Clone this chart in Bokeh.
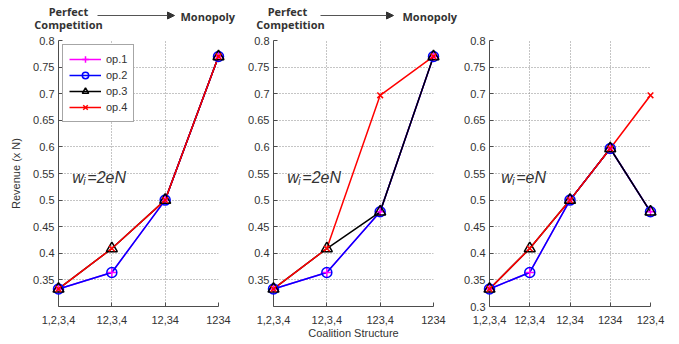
from bokeh.plotting import figure
from bokeh.layouts import row, column
from bokeh.models import (Range1d, FixedTicker, Label, Arrow, NormalHead, Legend,
                          LegendItem, NumeralTickFormatter)
from bokeh.embed import file_html
from bokeh.resources import INLINE

# ---------------- data ----------------
cats_a = ["1,2,3,4", "12,3,4", "12,34", "1234"]
cats_b = ["1,2,3,4", "12,3,4", "123,4", "1234"]
cats_c = ["1,2,3,4", "12,3,4", "12,34", "1234", "123,4"]

a_op1 = [0.333, 0.364, 0.500, 0.770]
a_op2 = [0.333, 0.364, 0.500, 0.770]
a_op3 = [0.333, 0.409, 0.500, 0.770]
a_op4 = [0.333, 0.409, 0.500, 0.770]

b_op1 = [0.333, 0.364, 0.478, 0.770]
b_op2 = [0.333, 0.364, 0.478, 0.770]
b_op3 = [0.333, 0.409, 0.478, 0.770]
b_op4 = [0.333, 0.409, 0.697, 0.770]

c_op1 = [0.333, 0.364, 0.500, 0.597, 0.478]
c_op2 = [0.333, 0.364, 0.500, 0.597, 0.478]
c_op3 = [0.333, 0.409, 0.500, 0.597, 0.478]
c_op4 = [0.333, 0.409, 0.500, 0.597, 0.697]

yticks_ab = [0.35, 0.4, 0.45, 0.5, 0.55, 0.6, 0.65, 0.7, 0.75, 0.8]
yticks_c = [0.3, 0.35, 0.4, 0.45, 0.5, 0.55, 0.6, 0.65, 0.7, 0.75, 0.8]

series_names = ["op.1", "op.2", "op.3", "op.4"]
colors = ["#FF00FF", "#0000FF", "#000000", "#FF0000"]
markers = ["cross", "circle", "triangle", "x"]
msizes = [9, 10, 11, 8]

FONT = "Liberation Sans"
TXT = "#333333"
AX = "#4d4d4d"
HEADER_H = 33
TOTAL_W = 666


def make_panel(cats, series, yticks, frame_w, bl, br, ylabel=None, xlabel=None,
               legend=False):
    n = len(cats)
    xs = list(range(n))
    p = figure(frame_width=frame_w, frame_height=266,
               x_range=Range1d(0, n - 1), y_range=Range1d(0.3, 0.8),
               output_backend="svg", toolbar_location=None,
               min_border_left=bl, min_border_right=br,
               min_border_top=7, min_border_bottom=30)
    p.outline_line_color = None
    p.background_fill_color = "white"
    p.border_fill_color = "white"

    p.xaxis.ticker = FixedTicker(ticks=xs)
    p.xaxis.major_label_overrides = {i: c for i, c in enumerate(cats)}
    p.yaxis.ticker = FixedTicker(ticks=yticks)
    p.yaxis.formatter = NumeralTickFormatter(format="0.[00]")

    p.axis.major_tick_in = 4
    p.axis.major_tick_out = 0
    p.axis.minor_tick_line_color = None
    p.axis.axis_line_color = AX
    p.axis.major_tick_line_color = AX
    p.axis.major_label_text_font = FONT
    p.axis.major_label_text_font_size = "11px"
    p.axis.major_label_text_color = TXT
    p.xaxis.major_label_standoff = 9
    p.yaxis.major_label_standoff = 4

    p.grid.grid_line_color = "#8a8a8a"
    p.grid.grid_line_dash = "1 2"
    p.grid.grid_line_width = 1

    if ylabel:
        p.yaxis.axis_label = ylabel
        p.yaxis.axis_label_text_font = FONT
        p.yaxis.axis_label_text_font_size = "11px"
        p.yaxis.axis_label_text_font_style = "normal"
        p.yaxis.axis_label_text_color = TXT
        p.yaxis.axis_label_standoff = 8
    if xlabel:
        p.xaxis.axis_label = xlabel
        p.xaxis.axis_label_text_font = FONT
        p.xaxis.axis_label_text_font_size = "11px"
        p.xaxis.axis_label_text_font_style = "normal"
        p.xaxis.axis_label_text_color = TXT
        p.xaxis.axis_label_standoff = 0

    items = []
    for name, vals, col, mk, ms in zip(series_names, series, colors, markers, msizes):
        rl = p.line(xs, vals, line_color=col, line_width=1.5)
        rs = p.scatter(xs, vals, marker=mk, size=ms, line_color=col,
                       fill_color=None, line_width=1.5, level="overlay")
        items.append(LegendItem(label=name, renderers=[rl, rs]))

    if legend:
        lg = Legend(items=items, location="top_left", margin=4, padding=6,
                    spacing=0, glyph_width=32, glyph_height=16, label_height=16,
                    label_standoff=5, label_text_font=FONT,
                    label_text_font_size="11px", label_text_color=TXT,
                    border_line_color=AX, border_line_width=1,
                    background_fill_color="white", background_fill_alpha=1.0)
        p.add_layout(lg)
    return p


def add_w_label(p, x, sub_text):
    common = dict(text_font=FONT, text_font_style="italic", text_color=TXT,
                  text_baseline="alphabetic")
    p.add_layout(Label(x=x, y=0.543, text="w", text_font_size="16px", **common))
    p.add_layout(Label(x=x, y=0.543, text="i", x_offset=11, y_offset=-4,
                       text_font_size="10px", **common))
    p.add_layout(Label(x=x, y=0.543, text=sub_text, x_offset=15,
                       text_font_size="16px", **common))


# header strip (coordinates in page pixels, y downward)
header = figure(frame_width=TOTAL_W, frame_height=HEADER_H,
                x_range=Range1d(0, TOTAL_W), y_range=Range1d(HEADER_H, 0),
                output_backend="svg", toolbar_location=None,
                x_axis_location=None, y_axis_location=None, min_border=0)
header.grid.visible = False
header.outline_line_color = None
header.background_fill_color = "white"
header.border_fill_color = "white"


def add_header(h, xc1, xc2, xa0, xa1, xm):
    common = dict(text_font="Open Sans", text_font_style="bold",
                  text_font_size="11px", text_color=TXT, text_baseline="middle")
    h.add_layout(Label(x=xc1, y=11, text="Perfect", text_align="center", **common))
    h.add_layout(Label(x=xc2, y=24, text="Competition", text_align="center", **common))
    h.add_layout(Label(x=xm, y=16, text="Monopoly", text_align="left", **common))
    h.add_layout(Arrow(end=NormalHead(size=7, fill_color="#333333", line_color="#333333"),
                       x_start=xa0, y_start=15, x_end=xa1, y_end=15,
                       line_color="#555555", line_width=1))


add_header(header, 68, 68, 97, 174, 180)
add_header(header, 287, 290, 320, 393, 402)

p1 = make_panel(cats_a, [a_op1, a_op2, a_op3, a_op4], yticks_ab, 160, 58, 22,
                ylabel="Revenue (x N)", legend=True)
p2 = make_panel(cats_b, [b_op1, b_op2, b_op3, b_op4], yticks_ab, 160, 33, 26,
                xlabel="Coalition Structure")
p3 = make_panel(cats_c, [c_op1, c_op2, c_op3, c_op4], yticks_c, 161, 30, 16)

add_w_label(p1, 0.26, "=2eN")
add_w_label(p2, 0.26, "=2eN")
add_w_label(p3, 0.29, "=eN")

layout = column(header, row(p1, p2, p3))

open("out.html", "w").write(file_html(layout, INLINE))
